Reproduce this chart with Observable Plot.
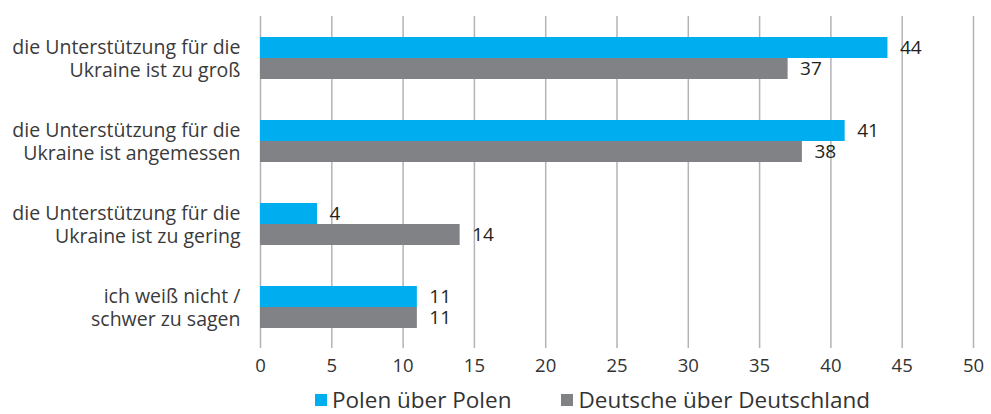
<!DOCTYPE html>
<html><head><meta charset="utf-8">
<script src="https://cdn.jsdelivr.net/npm/d3@7"></script>
<script src="https://cdn.jsdelivr.net/npm/@observablehq/plot@0.6"></script>
<style>
body{margin:0;background:#fff;font-family:"Open Sans",sans-serif}
#legend{display:flex;align-items:center;padding-left:315px;height:29px;font-size:22.5px;color:#333;line-height:29px}
#legend .item{display:flex;align-items:center;margin-right:50px}
#legend .sw{width:12px;height:12px;margin-right:5px;display:inline-block}
</style></head><body>
<div id="chart"></div>
<div id="legend"></div>
<script>
const categories = ["zu groß", "angemessen", "zu gering", "weiß nicht"];
const categoryLabels = [
  "die Unterstützung für die\nUkraine ist zu groß",
  "die Unterstützung für die\nUkraine ist angemessen",
  "die Unterstützung für die\nUkraine ist zu gering",
  "ich weiß nicht /\nschwer zu sagen"
];
const series = ["Polen über Polen", "Deutsche über Deutschland"];
const polen = [44, 41, 4, 11];
const deutsche = [37, 38, 14, 11];
const xTicks = [0, 5, 10, 15, 20, 25, 30, 35, 40, 45, 50];
const colors = ["#00aeef", "#808285"];

const data = categories.flatMap((c, i) => [
  {category: c, series: series[0], value: polen[i]},
  {category: c, series: series[1], value: deutsche[i]}
]);

const plot = Plot.plot({
  width: 991, height: 385,
  marginTop: 16, marginBottom: 37, marginLeft: 260, marginRight: 18,
  style: {fontFamily: "Open Sans", background: "#fff"},
  fy: {domain: categories, padding: 0, label: null},
  y: {domain: series, paddingInner: 0, paddingOuter: 0.93, axis: null},
  x: {domain: [0, 50], ticks: xTicks, label: null},
  color: {domain: series, range: colors},
  marks: [
    Plot.gridX(xTicks, {stroke: "#b3b3b8", strokeOpacity: 1, strokeWidth: 1.5}),
    Plot.barX(data, {fy: "category", y: "series", x: "value", fill: "series"}),
    Plot.text(data, {fy: "category", y: "series", x: "value", text: d => String(d.value),
      textAnchor: "start", dx: 12, fontSize: 19, fill: "#231f20"}),
    Plot.axisX({ticks: xTicks, tickSize: 0, tickPadding: 10, fontSize: 18.5, label: null, fill: "#333"}),
    Plot.axisFy({anchor: "left", tickSize: 0, tickPadding: 20, fontSize: 19.5, lineHeight: 1.18,
      label: null, fill: "#3a3a3a", tickFormat: c => categoryLabels[categories.indexOf(c)]})
  ]
});
document.getElementById("chart").appendChild(plot);

const legend = document.getElementById("legend");
series.forEach((s, i) => {
  const item = document.createElement("span");
  item.className = "item";
  const sw = document.createElement("span");
  sw.className = "sw";
  sw.style.background = colors[i];
  item.appendChild(sw);
  item.appendChild(document.createTextNode(s));
  legend.appendChild(item);
});
</script>
</body></html>
